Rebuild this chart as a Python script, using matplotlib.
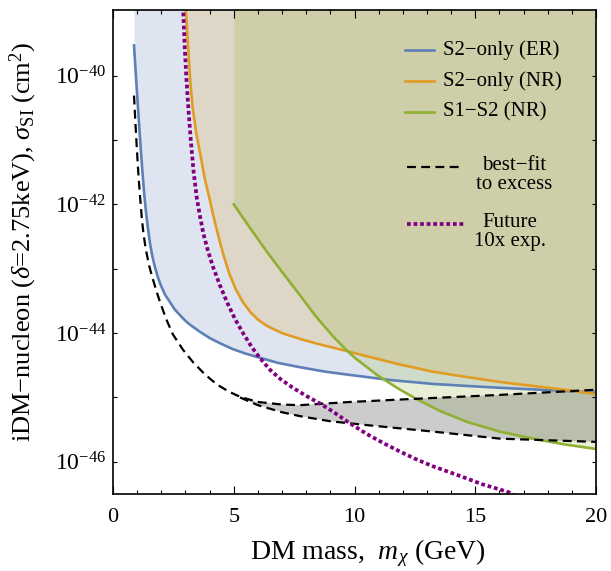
import numpy as np
import matplotlib
matplotlib.use("Agg")
import matplotlib.pyplot as plt
from matplotlib.lines import Line2D
from matplotlib.ticker import FixedLocator, FuncFormatter, MultipleLocator

plt.rcParams['font.family'] = ['Liberation Serif', 'DejaVu Serif']
plt.rcParams['mathtext.fontset'] = 'custom'
plt.rcParams['mathtext.rm'] = 'Liberation Serif'
plt.rcParams['mathtext.it'] = 'Liberation Serif:italic'
plt.rcParams['mathtext.bf'] = 'Liberation Serif:bold'

# ---------------- data (x in GeV, log10 of cross-section in cm^2) ----------------
er_x = [0.87, 0.94, 1.01, 1.08, 1.15, 1.22, 1.29, 1.37, 1.45, 1.53, 1.63, 1.74, 1.85,
        1.95, 2.15, 2.36, 2.55, 2.77, 3.0, 3.19, 3.6, 4.02, 4.5, 4.97, 5.5, 5.96, 6.8,
        7.74, 8.8, 9.81, 11.5, 13.25, 14.6, 16.02, 18.8, 20.0]
er_log = [-39.53, -39.95, -40.36, -40.76, -41.14, -41.50, -41.83, -42.13, -42.38, -42.60,
          -42.81, -42.98, -43.12, -43.23, -43.40, -43.52, -43.63, -43.72, -43.81, -43.87,
          -43.98, -44.08, -44.17, -44.25, -44.32, -44.37, -44.46, -44.53, -44.60, -44.65,
          -44.73, -44.79, -44.82, -44.85, -44.90, -44.93]

nr_x = [3.02, 3.10, 3.20, 3.30, 3.45, 3.60, 3.80, 4.02, 4.20, 4.43, 4.60, 4.84, 5.10,
        5.38, 5.70, 6.0, 6.38, 7.0, 7.74, 8.5, 9.11, 10.52, 11.9, 13.25, 14.6, 16.02,
        18.8, 20.0]
nr_log = [-39.0, -39.5, -40.1, -40.5, -40.9, -41.19, -41.6, -41.95, -42.25, -42.59,
          -42.82, -43.10, -43.33, -43.52, -43.68, -43.79, -43.89, -44.0, -44.09, -44.17,
          -44.225, -44.36, -44.49, -44.60, -44.68, -44.76, -44.885, -44.95]

s1s2_x = [5.0, 5.7, 6.38, 7.0, 7.74, 8.4, 9.11, 9.6, 10.0, 10.93, 11.8, 12.59, 13.6,
          14.66, 16.0, 17.39, 18.7, 20.0]
s1s2_log = [-42.0, -42.38, -42.74, -43.05, -43.41, -43.74, -44.05, -44.24, -44.38, -44.65,
            -44.86, -45.03, -45.22, -45.38, -45.53, -45.64, -45.73, -45.80]

fit_hi_x = [0.87, 0.93, 0.99, 1.05, 1.12, 1.19, 1.26, 1.35, 1.44, 1.53, 1.65, 1.8, 1.95,
            2.2, 2.48, 2.9, 3.31, 3.8, 4.31, 4.8, 5.26, 6.0, 7.0, 7.74, 9.81, 12.59,
            16.02, 20.0]
fit_hi_log = [-40.31, -40.75, -41.15, -41.52, -41.88, -42.20, -42.45, -42.68, -42.85, -43.0,
              -43.16, -43.35, -43.52, -43.78, -44.02, -44.26, -44.45, -44.64, -44.80, -44.91,
              -44.99, -45.07, -45.11, -45.12, -45.07, -45.02, -44.96, -44.88]
fit_lo_x = [5.26, 6.0, 7.0, 7.74, 9.0, 10.52, 13.25, 16.02, 20.0]
fit_lo_log = [-45.0, -45.12, -45.23, -45.29, -45.37, -45.43, -45.53, -45.64, -45.69]

fut_x = [2.91, 2.97, 3.04, 3.12, 3.22, 3.34, 3.47, 3.6, 3.74, 3.93, 4.15, 4.42, 4.71,
         5.05, 5.40, 5.75, 6.09, 6.5, 6.92, 7.45, 8.02, 8.55, 9.11, 9.8, 10.52, 11.2,
         11.88, 12.55, 13.25, 14.0, 14.66, 15.3, 16.02, 16.44, 16.6]
fut_log = [-39.02, -39.55, -40.05, -40.5, -41.0, -41.5, -41.9, -42.18, -42.45, -42.72,
           -42.98, -43.25, -43.51, -43.78, -44.01, -44.22, -44.39, -44.57, -44.71, -44.85,
           -44.98, -45.09, -45.22, -45.40, -45.57, -45.71, -45.84, -45.96, -46.07, -46.17,
           -46.26, -46.35, -46.43, -46.48, -46.52]

labels = ["S2\u2212only (ER)", "S2\u2212only (NR)", "S1\u2212S2 (NR)"]
fit_label = "best\u2212fit\nto excess"
fut_label = "Future\n10x exp."
x_title = r"DM mass,  $m_\chi$ (GeV)"
y_title = "iDM\u2212nucleon ($\\delta$=2.75keV), $\\sigma_{\\rm SI}$ (cm$^2$)"

x_ticks = [0, 5, 10, 15, 20]
y_ticks_exp = [-46, -45, -44, -43, -42, -41, -40]
y_label_exp = [-46, -44, -42, -40]

XMIN, XMAX = 0, 20
YMIN, YMAX = 10 ** -46.5, 10 ** -38.98

C_BLUE = '#5E81B5'
C_ORANGE = '#E19C24'
C_GREEN = '#8FB032'
C_PURPLE = '#800080'

def tov(a):
    return 10.0 ** np.asarray(a)

fig = plt.figure(figsize=(6.11, 5.71), dpi=100)
ax = fig.add_axes([113 / 611, 1 - 494 / 571, 483 / 611, 484 / 571])
ax.set_yscale('log')

# fills
ax.fill_between(er_x, tov(er_log), YMAX * 10, color=C_BLUE, alpha=0.2, lw=0)
ax.fill_between(nr_x, tov(nr_log), YMAX * 10, color=C_ORANGE, alpha=0.2, lw=0)
ax.fill_between(s1s2_x, tov(s1s2_log), YMAX * 10, color=C_GREEN, alpha=0.2, lw=0)
hi_mask = [i for i, xv in enumerate(fit_hi_x) if xv >= fit_lo_x[0]]
poly_x = [fit_hi_x[i] for i in hi_mask] + fit_lo_x[::-1]
poly_y = [fit_hi_log[i] for i in hi_mask] + fit_lo_log[::-1]
ax.fill(poly_x, tov(poly_y), color='black', alpha=0.2, lw=0)

# lines
ax.plot(er_x, tov(er_log), color=C_BLUE, lw=1.9)
ax.plot(nr_x, tov(nr_log), color=C_ORANGE, lw=1.9)
ax.plot(s1s2_x, tov(s1s2_log), color=C_GREEN, lw=1.9)
ax.plot(fit_hi_x, tov(fit_hi_log), color='black', lw=1.6, ls=(0, (4, 2.4)))
ax.plot(fit_lo_x, tov(fit_lo_log), color='black', lw=1.6, ls=(0, (4, 2.4)))
ax.plot(fut_x, tov(fut_log), color=C_PURPLE, lw=2.7, ls=(0, (1.0, 0.75)))

ax.set_xlim(XMIN, XMAX)
ax.set_ylim(YMIN, YMAX)

ax.xaxis.set_major_locator(FixedLocator(x_ticks))
ax.xaxis.set_minor_locator(MultipleLocator(1))
ax.yaxis.set_major_locator(FixedLocator([10.0 ** e for e in y_ticks_exp]))
ax.yaxis.set_minor_locator(FixedLocator([]))

def yfmt(v, pos):
    e = int(round(np.log10(v)))
    if e in y_label_exp:
        return r"$10^{%d}$" % e
    return ""

ax.yaxis.set_major_formatter(FuncFormatter(yfmt))
ax.xaxis.set_major_formatter(FuncFormatter(lambda v, p: "%d" % v))

ax.tick_params(which='both', direction='in', top=True, right=True, width=0.8)
ax.tick_params(axis='x', which='major', length=5.5, pad=10, labelsize=16)
ax.tick_params(axis='x', which='minor', length=3)
ax.tick_params(axis='y', which='major', length=3, pad=5, labelsize=17)
for s in ax.spines.values():
    s.set_linewidth(1.2)

ax.set_xlabel(x_title, fontsize=20)
ax.xaxis.set_label_coords(0.528, -0.089)
ax.set_ylabel(y_title, fontsize=19)
ax.yaxis.set_label_coords(-0.153, 0.52)

# legend (drawn in axes fraction)
def ax_frac(px, py):
    return ((px - 113) / 483, (494 - py) / 484)

leg_rows = [(labels[0], C_BLUE, 50), (labels[1], C_ORANGE, 81), (labels[2], C_GREEN, 112)]
for lab, col, py in leg_rows:
    x0, y0 = ax_frac(405, py)
    x1, _ = ax_frac(434, py)
    ax.add_line(Line2D([x0, x1], [y0, y0], transform=ax.transAxes, color=col, lw=1.9))
    xt, _ = ax_frac(443, py)
    ax.text(xt, y0, lab, transform=ax.transAxes, fontsize=15, va='center', ha='left')

x0, y0 = ax_frac(407, 167)
x1, _ = ax_frac(463, 167)
ax.add_line(Line2D([x0, x1], [y0, y0], transform=ax.transAxes, color='black', lw=1.6,
                   ls=(0, (4, 2.4))))
xt, yt = ax_frac(514, 175)
ax.text(xt, yt, fit_label, transform=ax.transAxes, fontsize=15, va='center', ha='center',
        multialignment='center', linespacing=0.95)

x0, y0 = ax_frac(407, 224)
x1, _ = ax_frac(465, 224)
ax.add_line(Line2D([x0, x1], [y0, y0], transform=ax.transAxes, color=C_PURPLE, lw=2.7,
                   ls=(0, (1.0, 0.75))))
xt, yt = ax_frac(510, 232)
ax.text(xt, yt, fut_label, transform=ax.transAxes, fontsize=15, va='center', ha='center',
        multialignment='center', linespacing=0.95)

fig.savefig("out.png", dpi=100)
